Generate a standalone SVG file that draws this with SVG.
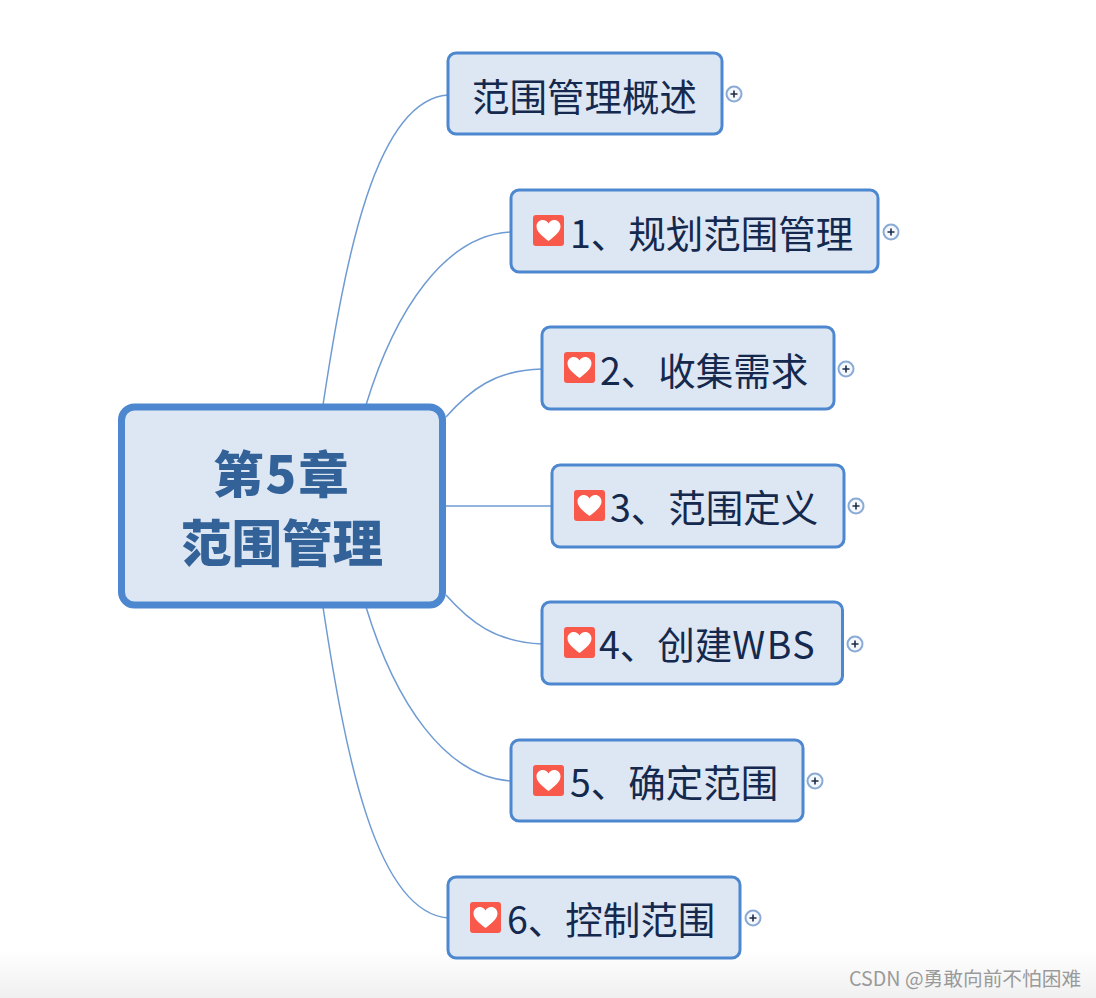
<svg xmlns="http://www.w3.org/2000/svg" width="1096" height="998" viewBox="0 0 1096 998">
<style>
text{font-family:"Noto Sans CJK SC","Liberation Sans",sans-serif}
.n{fill:#dde6f3;stroke:#4d87cf;stroke-width:3}
.t{font-size:37.500px;fill:#14294d}
.c{fill:none;stroke:#6f9bd3;stroke-width:1.500}
.hb{fill:#f9594a}
.hh{fill:#fff}
.pc{fill:#f4f7fb;stroke:#8aaad6;stroke-width:2}
.pp{stroke:#1e2c48;stroke-width:1.600}
.r{font-size:50.500px;font-weight:900;fill:#336299;text-anchor:middle}
</style>
<defs>
<linearGradient id="fade" x1="0" y1="0" x2="0" y2="1"><stop offset="0" stop-color="#fff"/><stop offset="1" stop-color="#f0f0f0"/></linearGradient>
<g id="heart"><rect class="hb" x="0" y="0" width="31" height="31" rx="3"/><path class="hh" d="M15.500 26C9 21 3.500 16.500 3.500 11.500C3.500 7.500 6.500 5 9.800 5C12.300 5 14.300 6.300 15.500 8.500C16.700 6.300 18.700 5 21.200 5C24.500 5 27.500 7.500 27.500 11.500C27.500 16.500 22 21 15.500 26Z"/></g>
<g id="plus"><circle class="pc" r="7.500"/><path class="pp" d="M-3.500 0H3.500M0-3.500V3.500"/></g>
</defs>
<rect width="1096" height="998" fill="#fff"/>
<rect y="950" width="1096" height="48" fill="url(#fade)"/>
<g id="connectors">
<path class="c" d="M323 405C345 260 375 100 448 95"/>
<path class="c" d="M366 405C395 310 445 235 511 232"/>
<path class="c" d="M446 417C470 390 495 370 542 369"/>
<path class="c" d="M446 506H552"/>
<path class="c" d="M446 595C470 622 495 642 542 644"/>
<path class="c" d="M366 607C395 702 445 777 511 781"/>
<path class="c" d="M323 607C345 752 375 912 448 918"/>
</g>
<g id="root"><rect x="121.500" y="407" width="321" height="198" rx="13" fill="#dde6f3" stroke="#4d87cf" stroke-width="7"/><text class="r" x="282" y="493" letter-spacing="2">第5章</text><text class="r" x="282" y="562">范围管理</text></g>
<g id="n0"><rect class="n" x="448" y="53" width="274" height="81" rx="8"/><text class="t" x="472" y="111">范围管理概述</text><use href="#plus" x="734" y="94"/></g>
<g id="n1"><rect class="n" x="511" y="190" width="367" height="82" rx="8"/><use href="#heart" x="533" y="215"/><text class="t" x="570" y="248">1、规划范围管理</text><use href="#plus" x="891" y="232"/></g>
<g id="n2"><rect class="n" x="542" y="327" width="292" height="82" rx="8"/><use href="#heart" x="564" y="352"/><text class="t" x="600" y="385">2、收集需求</text><use href="#plus" x="846" y="369"/></g>
<g id="n3"><rect class="n" x="552" y="465" width="292" height="82" rx="8"/><use href="#heart" x="574" y="490"/><text class="t" x="610" y="522">3、范围定义</text><use href="#plus" x="856" y="506"/></g>
<g id="n4"><rect class="n" x="542" y="602" width="300.500" height="82" rx="8"/><use href="#heart" x="564" y="627"/><text class="t" x="599" y="659">4、创建<tspan letter-spacing="1.500">WBS</tspan></text><use href="#plus" x="855" y="644"/></g>
<g id="n5"><rect class="n" x="511" y="740" width="292" height="81" rx="8"/><use href="#heart" x="533" y="765"/><text class="t" x="570" y="797">5、确定范围</text><use href="#plus" x="815" y="781"/></g>
<g id="n6"><rect class="n" x="448" y="877" width="292" height="81" rx="8"/><use href="#heart" x="470" y="902"/><text class="t" x="507" y="934">6、控制范围</text><use href="#plus" x="753" y="918"/></g>
<text x="849" y="986" font-size="19.700" fill="#9a9a9a">CSDN @勇敢向前不怕困难</text>
</svg>
